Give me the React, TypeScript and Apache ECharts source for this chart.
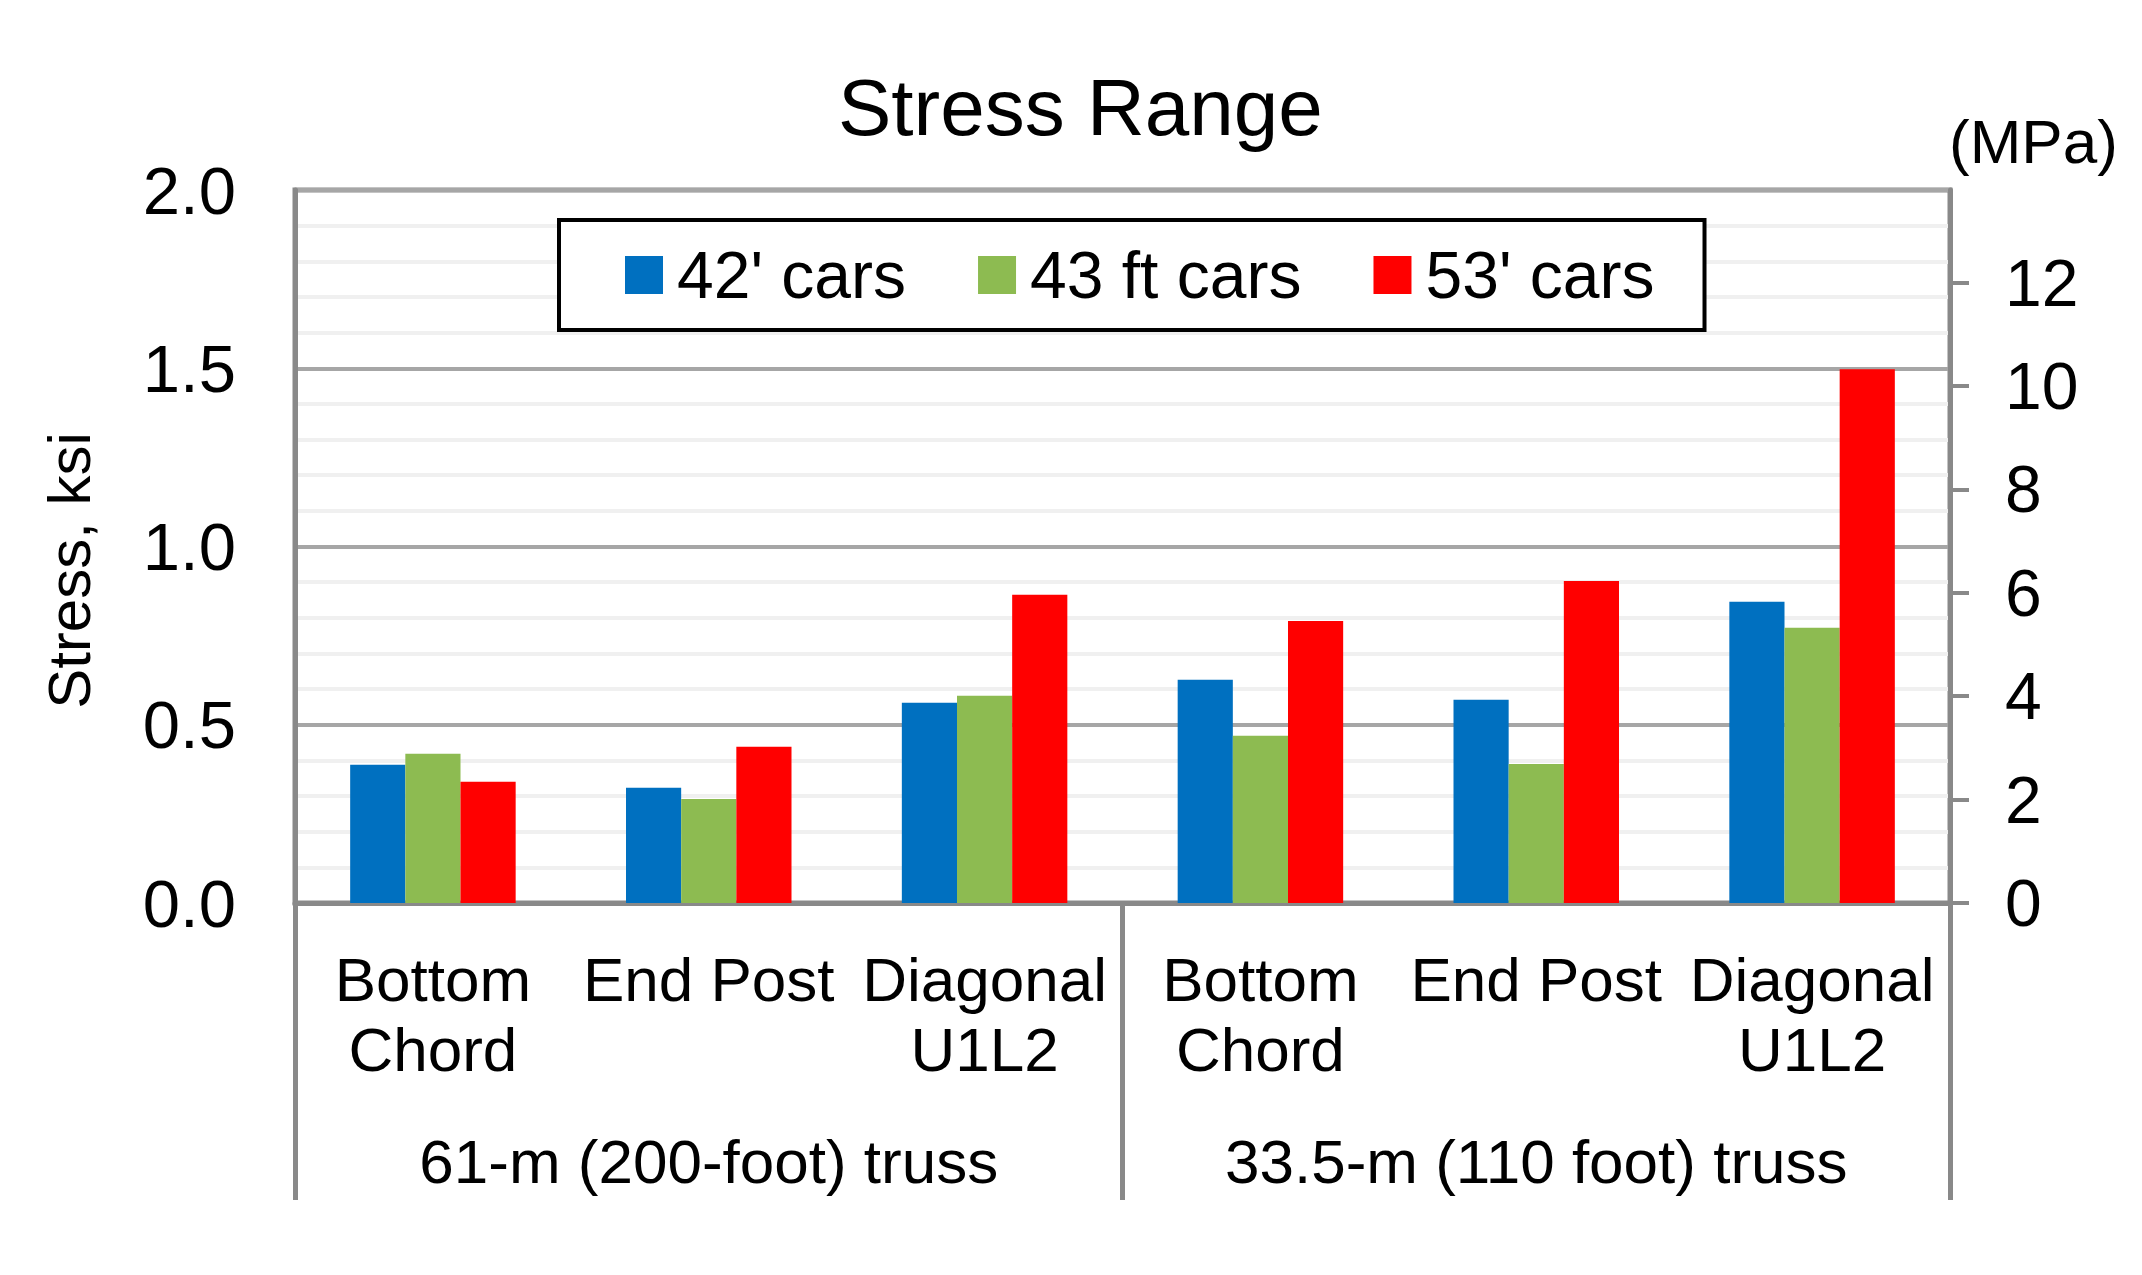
import React, { useEffect, useRef } from "react";
import * as echarts from "echarts";

const categories = ["Bottom\nChord", "End Post", "Diagonal\nU1L2", "Bottom\nChord", "End Post", "Diagonal\nU1L2"];
const groups = ["61-m (200-foot) truss", "33.5-m (110 foot) truss"];
const seriesNames = ["42' cars", "43 ft cars", "53' cars"];
const cars42 = [0.388, 0.323, 0.562, 0.626, 0.570, 0.845];
const cars43 = [0.419, 0.292, 0.581, 0.469, 0.390, 0.772];
const cars53 = [0.340, 0.438, 0.865, 0.791, 0.903, 1.497];
const leftTicks = [0, 0.5, 1.0, 1.5, 2.0];
const rightTicks = [0, 2, 4, 6, 8, 10, 12];
const KSI_TO_MPA = 6.894757;

const FONT = '"Liberation Sans", Arial, sans-serif';
const AXIS_GRAY = "#898989";

export default function App() {
  const ref = useRef<HTMLDivElement>(null);
  useEffect(() => {
    if (!ref.current) return;
    const chart = echarts.init(ref.current, null, { renderer: "svg" });
    const colors = ["#0070C0", "#8DBB51", "#FF0000"];
    const values = [cars42, cars43, cars53];
    chart.setOption({
      animation: false,
      backgroundColor: "#ffffff",
      textStyle: { fontFamily: FONT, color: "#000" },
      title: {
        text: "Stress Range",
        left: 838,
        top: 67,
        padding: 0,
        textStyle: { fontFamily: FONT, fontSize: 80, fontWeight: "normal", color: "#000" },
      },
      legend: {
        left: 559,
        top: 220,
        orient: "horizontal",
        padding: [20, 50, 20, 66],
        itemGap: 72,
        itemWidth: 38,
        itemHeight: 38,
        icon: "rect",
        borderColor: "#000",
        borderWidth: 4,
        backgroundColor: "#fff",
        data: seriesNames,
        textStyle: { fontFamily: FONT, fontSize: 66, color: "#000", lineHeight: 70, padding: [0, 0, 0, 9] },
      },
      grid: {
        left: 295,
        right: 192,
        top: 190,
        bottom: 372,
        show: true,
        borderColor: AXIS_GRAY,
        borderWidth: 5,
        backgroundColor: "transparent",
      },
      xAxis: [
        {
          type: "category",
          data: categories,
          position: "bottom",
          axisLine: { show: true, lineStyle: { color: AXIS_GRAY, width: 5 } },
          axisTick: { show: false },
          axisLabel: {
            interval: 0,
            margin: 41,
            fontFamily: FONT,
            fontSize: 62,
            lineHeight: 70,
            color: "#000",
            align: "center",
          },
          splitLine: { show: false },
        },
        {
          type: "category",
          data: groups,
          position: "bottom",
          axisLine: { show: false },
          axisTick: { show: true, length: 297, interval: 0, lineStyle: { color: AXIS_GRAY, width: 5 } },
          axisLabel: {
            interval: 0,
            margin: 223,
            fontFamily: FONT,
            fontSize: 62,
            lineHeight: 70,
            color: "#000",
          },
          splitLine: { show: false },
        },
      ],
      yAxis: [
        {
          type: "value",
          min: 0,
          max: 2,
          interval: 0.5,
          position: "left",
          name: "Stress, ksi",
          nameLocation: "middle",
          nameGap: 196,
          nameRotate: 90,
          nameTextStyle: { fontFamily: FONT, fontSize: 60, color: "#000", padding: [0, 48, 0, 0] },
          axisLine: { show: true, lineStyle: { color: AXIS_GRAY, width: 5 } },
          axisTick: { show: false },
          axisLabel: {
            margin: 59,
            fontFamily: FONT,
            fontSize: 67,
            color: "#000",
            customValues: leftTicks,
            formatter: (v: number) => v.toFixed(1),
          },
          splitLine: { show: true, lineStyle: { color: "#A6A6A6", width: 4 } },
          minorTick: { show: false, splitNumber: 5 },
          minorSplitLine: { show: true, lineStyle: { color: "#F0F0F0", width: 4 } },
        },
        {
          type: "value",
          min: 0,
          max: 2 * KSI_TO_MPA,
          interval: 2,
          position: "right",
          axisLine: { show: true, lineStyle: { color: AXIS_GRAY, width: 5 } },
          axisTick: { show: true, inside: false, length: 19, customValues: rightTicks, lineStyle: { color: AXIS_GRAY, width: 4 } },
          axisLabel: {
            margin: 55,
            fontFamily: FONT,
            fontSize: 66,
            color: "#000",
            customValues: rightTicks,
            formatter: (v: number) => String(Math.round(v)),
          },
          splitLine: { show: false },
        },
      ],
      graphic: [
        {
          type: "text",
          left: 1949,
          top: 110,
          style: { text: "(MPa)", fontFamily: FONT, fontSize: 62, fill: "#000" },
        },
      ],
      series: seriesNames.map((name, i) => ({
        name,
        type: "bar",
        xAxisIndex: 0,
        yAxisIndex: 0,
        data: values[i],
        barGap: "0%",
        barCategoryGap: "40%",
        itemStyle: { color: colors[i] },
        z: 3,
      })),
    });
    return () => chart.dispose();
  }, []);
  return (
    <div
      ref={ref}
      style={{ position: "fixed", left: 0, top: 0, width: 2142, height: 1275, background: "#fff" }}
    />
  );
}
